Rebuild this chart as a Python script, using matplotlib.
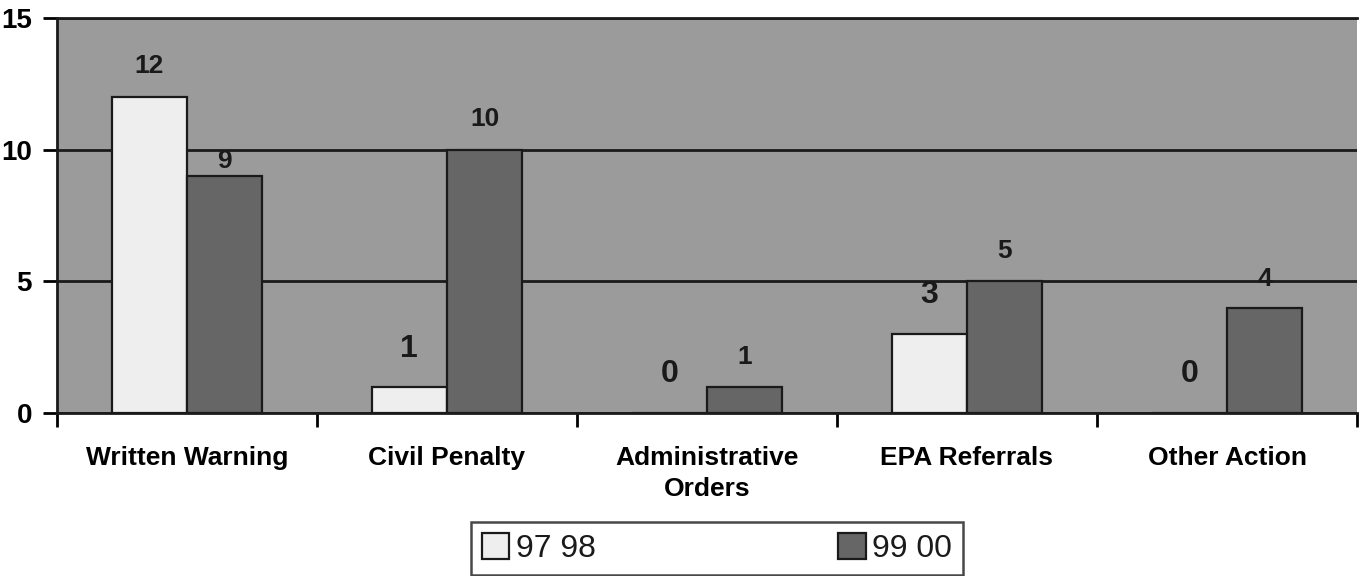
import matplotlib
matplotlib.use("Agg")
import matplotlib.pyplot as plt
import numpy as np

plt.rcParams["font.family"] = ["Liberation Sans", "DejaVu Sans"]

categories = ["Written Warning", "Civil Penalty", "Administrative\nOrders",
              "EPA Referrals", "Other Action"]
series_names = ["97 98", "99 00"]
vals_9798 = [12, 1, 0, 3, 0]
vals_9900 = [9, 10, 1, 5, 4]

# label offsets (points above bar top) and sizes, as they sit in the original
off_9798 = [22, 27, 28, 28, 28]
off_9900 = [11, 22, 21, 22, 21]
size_9798 = [19, 23, 23, 23, 23]
size_9900 = [19, 19, 19, 19, 19]

fig = plt.figure(figsize=(13.61, 5.76), dpi=100)
ax = fig.add_axes([57 / 1361, 163 / 576, 1300 / 1361, 395 / 576])
ax.set_facecolor("#9b9b9b")

x = np.arange(len(categories))
w = 0.29
b1 = ax.bar(x - w / 2, vals_9798, w, color="#eeeeee", edgecolor="#1a1a1a",
            linewidth=1.6, zorder=3, label=series_names[0])
b2 = ax.bar(x + w / 2, vals_9900, w, color="#666666", edgecolor="#1a1a1a",
            linewidth=1.6, zorder=3, label=series_names[1])

for xi, v, o, s in zip(x - w / 2, vals_9798, off_9798, size_9798):
    ax.annotate(str(v), (xi, v), xytext=(0, o), textcoords="offset points",
                ha="center", va="center", fontsize=s, fontweight="bold",
                color="#1a1a1a", zorder=4)
for xi, v, o, s in zip(x + w / 2, vals_9900, off_9900, size_9900):
    ax.annotate(str(v), (xi, v), xytext=(0, o), textcoords="offset points",
                ha="center", va="center", fontsize=s, fontweight="bold",
                color="#1a1a1a", zorder=4)

ax.set_xlim(-0.5, len(categories) - 0.5)
ax.set_ylim(0, 15)
ax.set_yticks([0, 5, 10, 15])
ax.yaxis.grid(True, color="#1a1a1a", linewidth=2, zorder=1)
ax.set_axisbelow(True)

ax.set_xticks(np.arange(len(categories) + 1) - 0.5)
ax.set_xticklabels([])
ax.set_xticks(x, minor=True)
ax.set_xticklabels(categories, minor=True, fontsize=19, fontweight="bold",
                   va="top", linespacing=1.35)
ax.tick_params(axis="x", which="minor", length=0, pad=24)
ax.tick_params(axis="x", which="major", length=10, width=2, direction="out")
ax.tick_params(axis="y", length=10, width=2, pad=8, labelsize=20)
for t in ax.get_yticklabels():
    t.set_fontweight("bold")

for side in ["left", "bottom", "top"]:
    ax.spines[side].set_linewidth(2)
    ax.spines[side].set_color("#1a1a1a")
ax.spines["right"].set_visible(False)

leg = fig.legend(handles=[b1, b2], labels=series_names, loc="upper center",
                 bbox_to_anchor=(717 / 1361, 1 - 522 / 576), ncol=2,
                 fontsize=23, frameon=True, fancybox=False, edgecolor="#1a1a1a",
                 columnspacing=7.6, handlelength=0.85, handleheight=0.85,
                 handletextpad=0.2, borderpad=0.35, borderaxespad=0)
leg.get_frame().set_linewidth(1.8)
for t in leg.get_texts():
    t.set_color("#1a1a1a")

fig.savefig("out.png", dpi=100, facecolor="white")
